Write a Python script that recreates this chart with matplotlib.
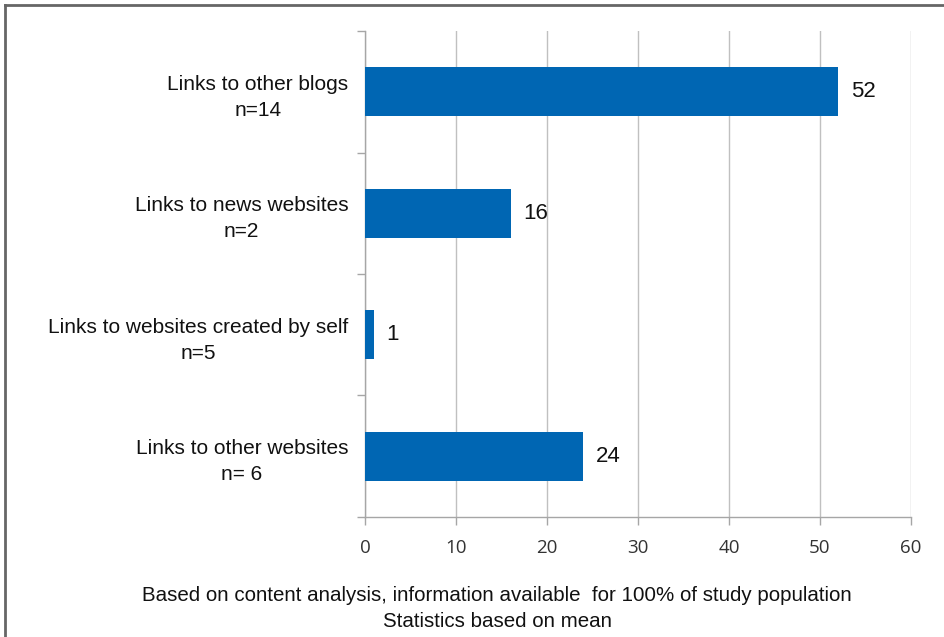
import matplotlib
matplotlib.use("Agg")
import matplotlib.pyplot as plt
from matplotlib.lines import Line2D
from matplotlib.ticker import FixedLocator

categories = [
    "Links to other blogs\nn=14",
    "Links to news websites\nn=2",
    "Links to websites created by self\nn=5",
    "Links to other websites\nn= 6",
]
values = [52, 16, 1, 24]
x_ticks = [0, 10, 20, 30, 40, 50, 60]
footnote = ("Based on content analysis, information available  for 100% of study population\n"
            "Statistics based on mean")

label_font = ["Liberation Sans Narrow", "Liberation Sans", "DejaVu Sans"]
tick_font = ["Open Sans", "DejaVu Sans"]
bar_color = "#0066b3"
axis_gray = "#a6a6a6"

fig = plt.figure(figsize=(9.45, 6.37), dpi=100)
ax = fig.add_axes([0.3862, 0.1884, 0.5778, 0.7629])

pos = list(range(len(categories)))
ax.barh(pos, values, height=0.4, color=bar_color, zorder=3)
ax.set_ylim(len(categories) - 0.5, -0.5)
ax.set_xlim(0, 60)

for y, v in zip(pos, values):
    ax.annotate(str(v), xy=(v, y), xytext=(9, 0), textcoords="offset points",
                va="center", ha="left", fontsize=16, family=label_font, color="#111111")

ax.set_yticks(pos)
ax.set_yticklabels(categories, family=label_font, fontsize=15, ha="right",
                   multialignment="center", linespacing=1.45, color="#111111")
ax.tick_params(axis="y", which="major", length=0, pad=12)
ax.yaxis.set_minor_locator(FixedLocator([p - 0.5 for p in pos] + [len(pos) - 0.5]))
ax.tick_params(axis="y", which="minor", length=6, color=axis_gray, width=1)

ax.set_xticks(x_ticks)
ax.set_xticklabels([str(t) for t in x_ticks], family=tick_font, fontsize=13.5, color="#333333")
ax.tick_params(axis="x", length=6, color=axis_gray, width=1, pad=10)
ax.grid(axis="x", color="#c0c0c0", linewidth=1, zorder=0)

for side in ("top", "right"):
    ax.spines[side].set_visible(False)
for side in ("left", "bottom"):
    ax.spines[side].set_color(axis_gray)
    ax.spines[side].set_linewidth(1)

fig.text(0.526, 0.045, footnote, ha="center", va="center", family=label_font,
         fontsize=14.8, linespacing=1.45, color="#111111")

# frame around the figure
fig.add_artist(Line2D([0.0053, 1.0], [0.992, 0.992], color="#666666", linewidth=2,
                      transform=fig.transFigure))
fig.add_artist(Line2D([0.0053, 0.0053], [0.0, 0.992], color="#666666", linewidth=2,
                      transform=fig.transFigure))

fig.savefig("out.png", dpi=100)
